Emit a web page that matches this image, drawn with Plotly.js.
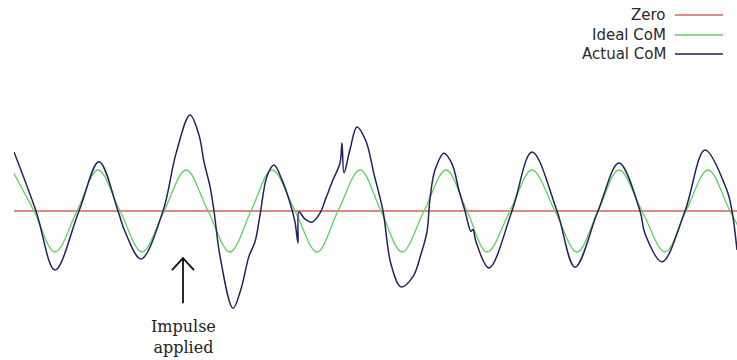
<!DOCTYPE html>
<html>
<head>
<meta charset="utf-8">
<script src="https://cdn.plot.ly/plotly-3.0.1.min.js"></script>
<style>html,body{margin:0;padding:0;background:#fff;}#chart{width:737px;height:360px;}</style>
</head>
<body>
<div id="chart"></div>
<script>
// Sample positions (time axis, arbitrary units) and CoM displacement (ideal amplitude = 1)
const zeroX = [14, 737];
const zeroY = [0, 0];

const idealX = [12, 34, 55, 77, 98, 120, 142, 164, 186, 208, 230, 251, 272, 295, 317, 338,
                360, 381, 402, 424, 446, 467, 487, 510, 532, 555, 577, 598, 619, 642, 665, 686,
                708, 730, 752];
const idealY = [1, 0, -1, 0, 1, 0, -1, 0, 1, 0, -1, 0, 1, 0, -1, 0,
                1, 0, -1, 0, 1, 0, -1, 0, 1, 0, -1, 0, 1, 0, -1, 0,
                1, 0, -1];

const actualX = [14, 36, 55, 79, 99, 118, 125, 141, 163, 176, 190, 199, 204, 210, 214, 220,
                 233, 241, 249, 255, 260, 267, 274, 282, 290, 295, 298, 299, 305, 312, 320, 326,
                 333, 340, 342, 344, 350, 357, 366, 374, 383, 391, 401, 413, 421, 427, 430, 435,
                 444, 452, 459, 465, 471, 473, 476, 489, 512, 532, 557, 575, 598, 619, 640, 645,
                 662, 685, 705, 727, 732, 737];
const actualY = [1.44, 0, -1.44, 0, 1.20, 0, -0.50, -1.17, 0, 1.40, 2.34, 1.85, 1.20, 0.60, 0, -1.10,
                 -2.37, -1.90, -1.10, -0.75, -0.10, 0.85, 1.12, 0.76, 0.20, -0.27, -0.78, -0.02, -0.20, -0.27, -0.05, 0.32,
                 0.76, 1.17, 1.66, 0.93, 1.50, 2.05, 1.70, 0.90, 0, -1.30, -1.85, -1.60, -1.05, -0.50, 0.30, 1.00,
                 1.41, 1.15, 0.50, 0, -0.50, -0.45, -0.75, -1.39, 0, 1.44, 0, -1.37, 0, 1.17, 0, -0.55,
                 -1.24, 0, 1.49, 0.50, 0, -0.95];

const seriesNames = ["Zero", "Ideal CoM", "Actual CoM"];
const seriesColors = ["#d0605a", "#5fd25f", "#22225e"];
const impulseX = 183;
const impulseY = -1.15;
const impulseLabel = "Impulse<br>applied";

const traces = [
  {x: zeroX, y: zeroY, mode: "lines", name: seriesNames[0], line: {color: seriesColors[0], width: 1.3}, showlegend: false},
  {x: idealX, y: idealY, mode: "lines", name: seriesNames[1], line: {color: seriesColors[1], width: 1.3, shape: "spline", smoothing: 1}, showlegend: false},
  {x: actualX, y: actualY, mode: "lines", name: seriesNames[2], line: {color: seriesColors[2], width: 1.5, shape: "spline", smoothing: 1}, showlegend: false}
];

// Custom legend (labels to the left of the line samples)
const legendAnn = [];
const legendShapes = [];
const legendRows = [15, 35, 54];
seriesNames.forEach((n, i) => {
  legendAnn.push({xref: "paper", yref: "paper", x: (668 - 14) / 723, y: 1 + (90 - legendRows[i]) / 240,
    xanchor: "right", yanchor: "middle", text: n, showarrow: false,
    font: {family: "DejaVu Sans", size: 15, color: "#2a2a2a"}});
  legendShapes.push({type: "line", xref: "paper", yref: "paper",
    x0: (675 - 14) / 723, x1: (723 - 14) / 723,
    y0: 1 + (90 - legendRows[i]) / 240, y1: 1 + (90 - legendRows[i]) / 240,
    line: {color: seriesColors[i], width: 1.3}});
});

// Upward arrow marking the impulse (pixel-sized, anchored at its tip)
legendShapes.push({type: "path", xref: "x", yref: "y", xsizemode: "pixel", ysizemode: "pixel",
  xanchor: impulseX, yanchor: impulseY,
  path: "M-11,-12 L0,0 L11,-12 M0,0 L0,-45",
  line: {color: "#111111", width: 1.8}});

const layout = {
  width: 737, height: 360,
  margin: {l: 14, r: 0, t: 90, b: 30},
  paper_bgcolor: "#ffffff", plot_bgcolor: "#ffffff",
  showlegend: false,
  xaxis: {range: [14, 737], visible: false, showgrid: false, zeroline: false},
  yaxis: {range: [-2.902, 2.951], visible: false, showgrid: false, zeroline: false},
  shapes: legendShapes,
  annotations: legendAnn.concat([
    {x: impulseX, y: impulseY, xref: "x", yref: "y", text: impulseLabel, showarrow: false,
     yanchor: "top", yshift: -57, align: "center",
     font: {family: "DejaVu Serif", size: 16, color: "#222222"}}
  ])
};

Plotly.newPlot("chart", traces, layout, {staticPlot: true, displayModeBar: false});
</script>
</body>
</html>
